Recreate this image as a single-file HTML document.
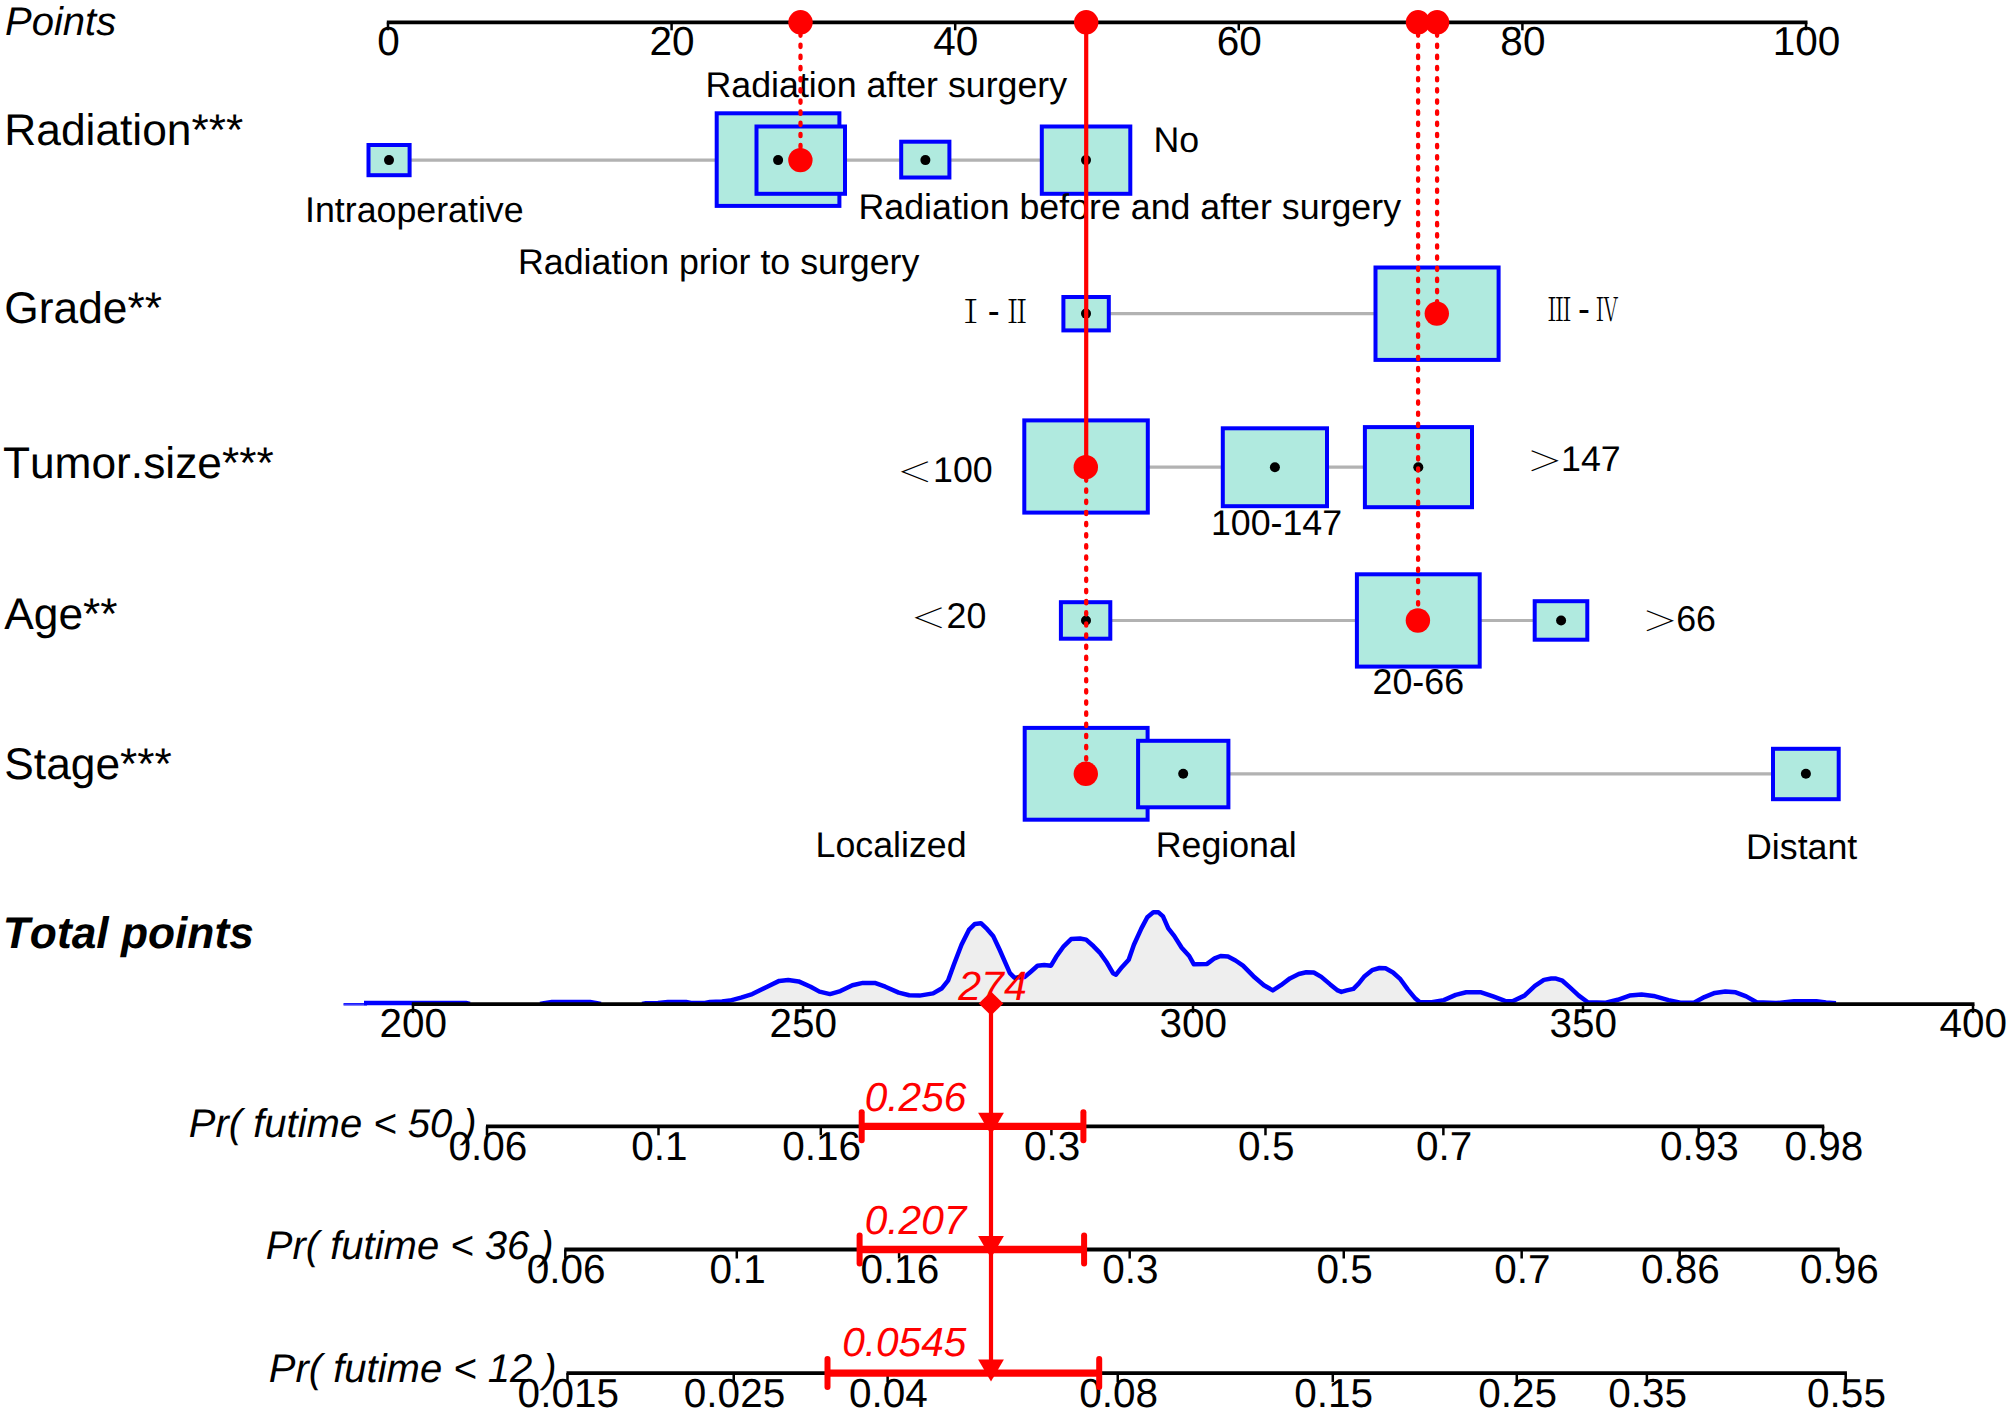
<!DOCTYPE html>
<html><head><meta charset="utf-8"><title>Nomogram</title>
<style>html,body{margin:0;padding:0;background:#fff}body{width:2008px;height:1414px;overflow:hidden}</style>
</head><body>
<svg width="2008" height="1414" viewBox="0 0 2008 1414" style="display:block;font-family:'Liberation Sans', sans-serif;font-kerning:none;text-rendering:geometricPrecision">
<rect width="2008" height="1414" fill="#fff"/>
<line x1="386.8" y1="22.3" x2="1807.5" y2="22.3" stroke="#000" stroke-width="3.8" />
<line x1="388.0" y1="22.3" x2="388.0" y2="30.3" stroke="#000" stroke-width="2.5" />
<text x="388.5" y="55" text-anchor="middle" fill="#000" style="font-size:40.5px;" >0</text>
<line x1="671.6" y1="22.3" x2="671.6" y2="30.3" stroke="#000" stroke-width="2.5" />
<text x="672.1" y="55" text-anchor="middle" fill="#000" style="font-size:40.5px;" >20</text>
<line x1="955.2" y1="22.3" x2="955.2" y2="30.3" stroke="#000" stroke-width="2.5" />
<text x="955.7" y="55" text-anchor="middle" fill="#000" style="font-size:40.5px;" >40</text>
<line x1="1238.8" y1="22.3" x2="1238.8" y2="30.3" stroke="#000" stroke-width="2.5" />
<text x="1239.3" y="55" text-anchor="middle" fill="#000" style="font-size:40.5px;" >60</text>
<line x1="1522.4" y1="22.3" x2="1522.4" y2="30.3" stroke="#000" stroke-width="2.5" />
<text x="1522.9" y="55" text-anchor="middle" fill="#000" style="font-size:40.5px;" >80</text>
<line x1="1806.0" y1="22.3" x2="1806.0" y2="30.3" stroke="#000" stroke-width="2.5" />
<text x="1806.5" y="55" text-anchor="middle" fill="#000" style="font-size:40.5px;" >100</text>
<text x="5" y="35" text-anchor="start" fill="#000" style="font-size:40px;font-style:italic;" >Points</text>
<text x="4.3" y="144.5" text-anchor="start" fill="#000" style="font-size:44.3px;" >Radiation***</text>
<text x="4.3" y="322.8" text-anchor="start" fill="#000" style="font-size:44.3px;" >Grade**</text>
<text x="2.9" y="478.2" text-anchor="start" fill="#000" style="font-size:44.3px;" >Tumor.size***</text>
<text x="4.3" y="629.3" text-anchor="start" fill="#000" style="font-size:44.3px;" >Age**</text>
<text x="4.3" y="779.3" text-anchor="start" fill="#000" style="font-size:44.3px;" >Stage***</text>
<line x1="389" y1="160.1" x2="1086" y2="160.1" stroke="#b2b2b2" stroke-width="3.2" />
<rect x="716.70" y="113.30" width="122.70" height="92.60" fill="#b0eadf" stroke="#0000ff" stroke-width="4.0"/>
<rect x="368.50" y="145.00" width="41.10" height="30.20" fill="#b0eadf" stroke="#0000ff" stroke-width="4.0"/>
<rect x="756.50" y="126.50" width="88.50" height="67.30" fill="#b0eadf" stroke="#0000ff" stroke-width="4.0"/>
<rect x="901.20" y="141.70" width="48.20" height="35.80" fill="#b0eadf" stroke="#0000ff" stroke-width="4.0"/>
<rect x="1041.80" y="126.50" width="88.50" height="67.30" fill="#b0eadf" stroke="#0000ff" stroke-width="4.0"/>
<line x1="1086" y1="313.6" x2="1437" y2="313.6" stroke="#b2b2b2" stroke-width="3.2" />
<rect x="1063.40" y="297.00" width="45.40" height="33.40" fill="#b0eadf" stroke="#0000ff" stroke-width="4.0"/>
<rect x="1375.50" y="267.50" width="123.10" height="92.40" fill="#b0eadf" stroke="#0000ff" stroke-width="4.0"/>
<line x1="1086" y1="467.2" x2="1418" y2="467.2" stroke="#b2b2b2" stroke-width="3.2" />
<rect x="1024.30" y="420.40" width="123.50" height="92.20" fill="#b0eadf" stroke="#0000ff" stroke-width="4.0"/>
<rect x="1222.80" y="428.30" width="104.20" height="77.90" fill="#b0eadf" stroke="#0000ff" stroke-width="4.0"/>
<rect x="1364.90" y="427.10" width="107.10" height="80.10" fill="#b0eadf" stroke="#0000ff" stroke-width="4.0"/>
<line x1="1086" y1="620.5" x2="1561" y2="620.5" stroke="#b2b2b2" stroke-width="3.2" />
<rect x="1060.90" y="602.20" width="49.40" height="36.50" fill="#b0eadf" stroke="#0000ff" stroke-width="4.0"/>
<rect x="1356.90" y="574.30" width="122.80" height="92.30" fill="#b0eadf" stroke="#0000ff" stroke-width="4.0"/>
<rect x="1534.70" y="601.20" width="52.60" height="38.50" fill="#b0eadf" stroke="#0000ff" stroke-width="4.0"/>
<line x1="1086" y1="773.8" x2="1806" y2="773.8" stroke="#b2b2b2" stroke-width="3.2" />
<rect x="1024.70" y="727.90" width="122.90" height="91.80" fill="#b0eadf" stroke="#0000ff" stroke-width="4.0"/>
<rect x="1138.10" y="740.80" width="90.30" height="66.50" fill="#b0eadf" stroke="#0000ff" stroke-width="4.0"/>
<rect x="1773.00" y="748.80" width="65.70" height="50.40" fill="#b0eadf" stroke="#0000ff" stroke-width="4.0"/>
<circle cx="778.1" cy="160.1" r="5.0" fill="#000"/>
<circle cx="389" cy="160.1" r="5.0" fill="#000"/>
<circle cx="925.4" cy="160.1" r="5.0" fill="#000"/>
<circle cx="1086" cy="160.1" r="5.0" fill="#000"/>
<circle cx="1086" cy="313.6" r="5.0" fill="#000"/>
<circle cx="1274.9" cy="467.2" r="5.0" fill="#000"/>
<circle cx="1418.3" cy="467.2" r="5.0" fill="#000"/>
<circle cx="1086" cy="620.5" r="5.0" fill="#000"/>
<circle cx="1561.1" cy="620.5" r="5.0" fill="#000"/>
<circle cx="1183.2" cy="773.8" r="5.0" fill="#000"/>
<circle cx="1805.9" cy="773.8" r="5.0" fill="#000"/>
<text x="305" y="221.7" text-anchor="start" fill="#000" style="font-size:35.75px;" >Intraoperative</text>
<text x="705.5" y="97" text-anchor="start" fill="#000" style="font-size:35.75px;" >Radiation after surgery</text>
<text x="518" y="274" text-anchor="start" fill="#000" style="font-size:35.75px;" >Radiation prior to surgery</text>
<text x="858.5" y="218.6" text-anchor="start" fill="#000" style="font-size:35.75px;" >Radiation before and after surgery</text>
<text x="1153.5" y="151.6" text-anchor="start" fill="#000" style="font-size:35.75px;" >No</text>
<text transform="translate(970.8,323.2) scale(1,1)" x="0" y="0" text-anchor="middle" style="font-size:32px;font-weight:300;font-family:'Liberation Serif', 'Noto Serif CJK SC', serif;">Ⅰ</text>
<text x="993.6" y="323.2" text-anchor="middle" fill="#000" style="font-size:35.75px;" >-</text>
<text transform="translate(1017.2,323.2) scale(0.88,1)" x="0" y="0" text-anchor="middle" style="font-size:32px;font-weight:300;font-family:'Liberation Serif', 'Noto Serif CJK SC', serif;">Ⅱ</text>
<text transform="translate(1559.5,321.4) scale(0.76,1)" x="0" y="0" text-anchor="middle" style="font-size:32px;font-weight:300;font-family:'Liberation Serif', 'Noto Serif CJK SC', serif;">Ⅲ</text>
<text x="1584" y="321.4" text-anchor="middle" fill="#000" style="font-size:35.75px;" >-</text>
<text transform="translate(1607.2,321.4) scale(0.7,1)" x="0" y="0" text-anchor="middle" style="font-size:32px;font-weight:300;font-family:'Liberation Serif', 'Noto Serif CJK SC', serif;">Ⅳ</text>
<text transform="translate(914.6,482.4) scale(1,0.77)" x="0" y="0" text-anchor="middle" style="font-size:36px;font-weight:300;font-family:'Liberation Serif', 'Noto Serif CJK SC', serif;">＜</text>
<text x="933" y="482.4" text-anchor="start" fill="#000" style="font-size:35.75px;" >100</text>
<text transform="translate(1545,471) scale(1,0.77)" x="0" y="0" text-anchor="middle" style="font-size:36px;font-weight:300;font-family:'Liberation Serif', 'Noto Serif CJK SC', serif;">＞</text>
<text x="1561" y="471" text-anchor="start" fill="#000" style="font-size:35.75px;" >147</text>
<text x="1276.5" y="534.7" text-anchor="middle" fill="#000" style="font-size:35.75px;" >100-147</text>
<text transform="translate(928.3,628.1) scale(1,0.77)" x="0" y="0" text-anchor="middle" style="font-size:36px;font-weight:300;font-family:'Liberation Serif', 'Noto Serif CJK SC', serif;">＜</text>
<text x="946.6" y="628.1" text-anchor="start" fill="#000" style="font-size:35.75px;" >20</text>
<text transform="translate(1660.3,630.9) scale(1,0.77)" x="0" y="0" text-anchor="middle" style="font-size:36px;font-weight:300;font-family:'Liberation Serif', 'Noto Serif CJK SC', serif;">＞</text>
<text x="1676.2" y="630.9" text-anchor="start" fill="#000" style="font-size:35.75px;" >66</text>
<text x="1418.3" y="694.1" text-anchor="middle" fill="#000" style="font-size:35.75px;" >20-66</text>
<text x="815.5" y="856.7" text-anchor="start" fill="#000" style="font-size:35.75px;" >Localized</text>
<text x="1155.7" y="856.7" text-anchor="start" fill="#000" style="font-size:35.75px;" >Regional</text>
<text x="1746" y="858.9" text-anchor="start" fill="#000" style="font-size:35.75px;" >Distant</text>
<line x1="800.5" y1="22.3" x2="800.5" y2="160.1" stroke="#ff0000" stroke-width="4.3" stroke-dasharray="2.4 8.75" stroke-linecap="round"/>
<line x1="1086.2" y1="22.3" x2="1086.2" y2="467.2" stroke="#ff0000" stroke-width="4.2" />
<line x1="1086.2" y1="467.2" x2="1086.2" y2="773.8" stroke="#ff0000" stroke-width="4.3" stroke-dasharray="2.4 8.75" stroke-linecap="round"/>
<line x1="1418.1" y1="22.3" x2="1418.1" y2="620.5" stroke="#ff0000" stroke-width="4.3" stroke-dasharray="2.4 8.75" stroke-linecap="round"/>
<line x1="1437.1" y1="22.3" x2="1437.1" y2="313.6" stroke="#ff0000" stroke-width="4.3" stroke-dasharray="2.4 8.75" stroke-linecap="round"/>
<circle cx="800.5" cy="22.3" r="12.2" fill="#ff0000"/>
<circle cx="1086.2" cy="22.3" r="12.2" fill="#ff0000"/>
<circle cx="1418" cy="22.3" r="12.2" fill="#ff0000"/>
<circle cx="1437.1" cy="22.3" r="12.2" fill="#ff0000"/>
<circle cx="800.4" cy="160.1" r="12.2" fill="#ff0000"/>
<circle cx="1436.8" cy="313.6" r="12.2" fill="#ff0000"/>
<circle cx="1085.8" cy="467.2" r="12.2" fill="#ff0000"/>
<circle cx="1417.9" cy="620.5" r="12.2" fill="#ff0000"/>
<circle cx="1085.8" cy="773.8" r="12.2" fill="#ff0000"/>
<line x1="343.5" y1="1004.3" x2="367" y2="1004.3" stroke="#0000ff" stroke-width="2.4"/><path d="M344.0,1004.3 L364.0,1004.3 L364.0,1003.0 L466.0,1003.0 L470.0,1003.9 L540.0,1003.9 L544.0,1003.2 L552.0,1001.9 L590.0,1001.9 L597.0,1003.2 L601.0,1003.9 L642.0,1003.9 L646.0,1003.2 L658.0,1003.0 L668.0,1001.9 L686.0,1001.9 L691.0,1003.0 L705.0,1003.0 L710.0,1001.9 L722.0,1001.6 L729.9,1000.6 L741.0,997.6 L752.3,994.1 L767.2,986.7 L779.2,980.9 L788.2,979.9 L798.6,981.4 L810.6,986.7 L819.5,991.6 L830.0,994.1 L840.4,991.1 L852.4,985.2 L862.9,982.9 L874.8,982.9 L885.3,986.7 L898.7,992.6 L909.2,995.2 L919.6,995.6 L933.1,993.4 L942.0,988.2 L948.0,980.7 L954.0,964.2 L961.5,944.8 L968.9,929.9 L974.9,923.9 L980.9,923.2 L987.2,929.2 L993.1,935.9 L999.4,949.3 L1005.4,962.8 L1009.9,973.2 L1014.4,977.7 L1024.8,976.9 L1030.8,971.7 L1037.5,965.7 L1044.2,965.0 L1051.0,965.7 L1056.2,956.8 L1063.7,946.3 L1071.1,939.1 L1080.1,938.5 L1086.1,939.6 L1093.6,946.3 L1099.5,952.3 L1107.0,962.8 L1113.0,973.2 L1116.0,974.7 L1121.9,967.2 L1128.7,959.8 L1133.9,944.8 L1141.4,928.4 L1147.3,917.2 L1153.3,912.3 L1158.5,912.3 L1163.0,916.4 L1168.3,928.4 L1174.2,935.9 L1181.7,947.8 L1189.2,956.0 L1193.7,964.2 L1207.1,963.9 L1214.6,958.3 L1220.6,956.0 L1228.0,956.5 L1235.5,960.5 L1243.0,965.7 L1253.4,976.2 L1263.9,985.2 L1272.8,990.4 L1280.9,985.2 L1289.9,978.4 L1298.8,974.0 L1306.3,972.2 L1313.8,972.5 L1321.3,976.9 L1330.2,984.4 L1337.7,990.4 L1341.4,991.9 L1346.7,990.4 L1353.4,988.9 L1358.6,983.7 L1364.6,976.2 L1372.1,970.2 L1379.5,968.0 L1385.5,968.3 L1393.0,972.5 L1400.4,979.2 L1407.9,989.6 L1415.4,998.6 L1419.9,1002.3 L1431.8,1002.3 L1443.8,1000.1 L1455.7,994.9 L1466.2,992.3 L1481.1,992.3 L1493.1,996.4 L1505.0,1000.9 L1512.5,1001.3 L1524.5,995.6 L1534.9,985.9 L1543.9,979.9 L1551.3,978.5 L1556.0,978.6 L1562.4,980.7 L1569.9,987.4 L1578.8,995.6 L1587.8,1002.3 L1605.7,1002.8 L1617.7,999.8 L1629.6,995.6 L1641.6,994.4 L1653.6,995.9 L1668.5,1000.1 L1680.4,1002.8 L1693.9,1002.8 L1704.4,997.1 L1714.8,992.9 L1725.3,991.4 L1735.7,992.3 L1746.2,996.4 L1756.6,1002.3 L1776.1,1003.1 L1794.0,1001.3 L1816.4,1001.3 L1826.0,1002.6 L1836.0,1003.2 L1836,1004.1 L344,1004.1 Z" fill="#eeeeee" stroke="none"/><path d="M364.0,1003.0 L466.0,1003.0 L470.0,1003.9 M540.0,1003.9 L544.0,1003.2 L552.0,1001.9 L590.0,1001.9 L597.0,1003.2 L601.0,1003.9 M642.0,1003.9 L646.0,1003.2 L658.0,1003.0 L668.0,1001.9 L686.0,1001.9 L691.0,1003.0 L705.0,1003.0 L710.0,1001.9 L722.0,1001.6 L729.9,1000.6 L741.0,997.6 L752.3,994.1 L767.2,986.7 L779.2,980.9 L788.2,979.9 L798.6,981.4 L810.6,986.7 L819.5,991.6 L830.0,994.1 L840.4,991.1 L852.4,985.2 L862.9,982.9 L874.8,982.9 L885.3,986.7 L898.7,992.6 L909.2,995.2 L919.6,995.6 L933.1,993.4 L942.0,988.2 L948.0,980.7 L954.0,964.2 L961.5,944.8 L968.9,929.9 L974.9,923.9 L980.9,923.2 L987.2,929.2 L993.1,935.9 L999.4,949.3 L1005.4,962.8 L1009.9,973.2 L1014.4,977.7 L1024.8,976.9 L1030.8,971.7 L1037.5,965.7 L1044.2,965.0 L1051.0,965.7 L1056.2,956.8 L1063.7,946.3 L1071.1,939.1 L1080.1,938.5 L1086.1,939.6 L1093.6,946.3 L1099.5,952.3 L1107.0,962.8 L1113.0,973.2 L1116.0,974.7 L1121.9,967.2 L1128.7,959.8 L1133.9,944.8 L1141.4,928.4 L1147.3,917.2 L1153.3,912.3 L1158.5,912.3 L1163.0,916.4 L1168.3,928.4 L1174.2,935.9 L1181.7,947.8 L1189.2,956.0 L1193.7,964.2 L1207.1,963.9 L1214.6,958.3 L1220.6,956.0 L1228.0,956.5 L1235.5,960.5 L1243.0,965.7 L1253.4,976.2 L1263.9,985.2 L1272.8,990.4 L1280.9,985.2 L1289.9,978.4 L1298.8,974.0 L1306.3,972.2 L1313.8,972.5 L1321.3,976.9 L1330.2,984.4 L1337.7,990.4 L1341.4,991.9 L1346.7,990.4 L1353.4,988.9 L1358.6,983.7 L1364.6,976.2 L1372.1,970.2 L1379.5,968.0 L1385.5,968.3 L1393.0,972.5 L1400.4,979.2 L1407.9,989.6 L1415.4,998.6 L1419.9,1002.3 L1431.8,1002.3 L1443.8,1000.1 L1455.7,994.9 L1466.2,992.3 L1481.1,992.3 L1493.1,996.4 L1505.0,1000.9 L1512.5,1001.3 L1524.5,995.6 L1534.9,985.9 L1543.9,979.9 L1551.3,978.5 L1556.0,978.6 L1562.4,980.7 L1569.9,987.4 L1578.8,995.6 L1587.8,1002.3 L1605.7,1002.8 L1617.7,999.8 L1629.6,995.6 L1641.6,994.4 L1653.6,995.9 L1668.5,1000.1 L1680.4,1002.8 L1693.9,1002.8 L1704.4,997.1 L1714.8,992.9 L1725.3,991.4 L1735.7,992.3 L1746.2,996.4 L1756.6,1002.3 L1776.1,1003.1 L1794.0,1001.3 L1816.4,1001.3 L1826.0,1002.6 L1836.0,1003.2" fill="none" stroke="#0000ff" stroke-width="4.5" stroke-linejoin="round" stroke-linecap="butt"/>
<line x1="411.8" y1="1004.1" x2="1974.5" y2="1004.1" stroke="#000" stroke-width="3.8" />
<line x1="413.0" y1="1004.1" x2="413.0" y2="1013.1" stroke="#000" stroke-width="2.5" />
<text x="413.3" y="1037.2" text-anchor="middle" fill="#000" style="font-size:40.5px;" >200</text>
<line x1="803.0" y1="1004.1" x2="803.0" y2="1013.1" stroke="#000" stroke-width="2.5" />
<text x="803.3" y="1037.2" text-anchor="middle" fill="#000" style="font-size:40.5px;" >250</text>
<line x1="1193.0" y1="1004.1" x2="1193.0" y2="1013.1" stroke="#000" stroke-width="2.5" />
<text x="1193.3" y="1037.2" text-anchor="middle" fill="#000" style="font-size:40.5px;" >300</text>
<line x1="1583.0" y1="1004.1" x2="1583.0" y2="1013.1" stroke="#000" stroke-width="2.5" />
<text x="1583.3" y="1037.2" text-anchor="middle" fill="#000" style="font-size:40.5px;" >350</text>
<line x1="1973.0" y1="1004.1" x2="1973.0" y2="1013.1" stroke="#000" stroke-width="2.5" />
<text x="1973.3" y="1037.2" text-anchor="middle" fill="#000" style="font-size:40.5px;" >400</text>
<text x="2.8" y="948" text-anchor="start" fill="#000" style="font-size:44.3px;font-style:italic;font-weight:bold;" >Total points</text>
<line x1="486.0" y1="1126.3" x2="1824.2626049709845" y2="1126.3" stroke="#000" stroke-width="3.8" />
<line x1="487.0" y1="1126.3" x2="487.0" y2="1135.3" stroke="#000" stroke-width="2.5" />
<text x="487.8" y="1159.8999999999999" text-anchor="middle" fill="#000" style="font-size:40.5px;" >0.06</text>
<line x1="658.4958493942574" y1="1126.3" x2="658.4958493942574" y2="1135.3" stroke="#000" stroke-width="2.5" />
<text x="659.2958493942574" y="1159.8999999999999" text-anchor="middle" fill="#000" style="font-size:40.5px;" >0.1</text>
<line x1="820.7867806721424" y1="1126.3" x2="820.7867806721424" y2="1135.3" stroke="#000" stroke-width="2.5" />
<text x="821.5867806721424" y="1159.8999999999999" text-anchor="middle" fill="#000" style="font-size:40.5px;" >0.16</text>
<line x1="1051.3984166905868" y1="1126.3" x2="1051.3984166905868" y2="1135.3" stroke="#000" stroke-width="2.5" />
<text x="1052.1984166905868" y="1159.8999999999999" text-anchor="middle" fill="#000" style="font-size:40.5px;" >0.3</text>
<line x1="1265.4737392429151" y1="1126.3" x2="1265.4737392429151" y2="1135.3" stroke="#000" stroke-width="2.5" />
<text x="1266.273739242915" y="1159.8999999999999" text-anchor="middle" fill="#000" style="font-size:40.5px;" >0.5</text>
<line x1="1443.3731439597814" y1="1126.3" x2="1443.3731439597814" y2="1135.3" stroke="#000" stroke-width="2.5" />
<text x="1444.1731439597813" y="1159.8999999999999" text-anchor="middle" fill="#000" style="font-size:40.5px;" >0.7</text>
<line x1="1698.6912364365116" y1="1126.3" x2="1698.6912364365116" y2="1135.3" stroke="#000" stroke-width="2.5" />
<text x="1699.4912364365116" y="1159.8999999999999" text-anchor="middle" fill="#000" style="font-size:40.5px;" >0.93</text>
<line x1="1823.0626049709845" y1="1126.3" x2="1823.0626049709845" y2="1135.3" stroke="#000" stroke-width="2.5" />
<text x="1823.8626049709844" y="1159.8999999999999" text-anchor="middle" fill="#000" style="font-size:40.5px;" >0.98</text>
<text x="188.8" y="1136.7" text-anchor="start" fill="#000" style="font-size:40px;font-style:italic;" >Pr( futime &lt; 50 )</text>
<line x1="861.7" y1="1126.3" x2="1083.4" y2="1126.3" stroke="#ff0000" stroke-width="7.3" />
<line x1="861.7" y1="1112.3" x2="861.7" y2="1140.3" stroke="#ff0000" stroke-width="6" stroke-linecap="round"/>
<line x1="1083.4" y1="1112.3" x2="1083.4" y2="1140.3" stroke="#ff0000" stroke-width="6" stroke-linecap="round"/>
<text x="966.3" y="1111.1" text-anchor="end" fill="#ff0000" style="font-size:40.6px;font-style:italic;" >0.256</text>
<polygon points="978.1,1112.8 1003.9,1112.8 991,1134.8" fill="#ff0000"/>
<line x1="564.3" y1="1249.5" x2="1839.7263693251366" y2="1249.5" stroke="#000" stroke-width="3.8" />
<line x1="565.3" y1="1249.5" x2="565.3" y2="1258.5" stroke="#000" stroke-width="2.5" />
<text x="566.0999999999999" y="1283.1" text-anchor="middle" fill="#000" style="font-size:40.5px;" >0.06</text>
<line x1="736.7958493942574" y1="1249.5" x2="736.7958493942574" y2="1258.5" stroke="#000" stroke-width="2.5" />
<text x="737.5958493942574" y="1283.1" text-anchor="middle" fill="#000" style="font-size:40.5px;" >0.1</text>
<line x1="899.0867806721424" y1="1249.5" x2="899.0867806721424" y2="1258.5" stroke="#000" stroke-width="2.5" />
<text x="899.8867806721423" y="1283.1" text-anchor="middle" fill="#000" style="font-size:40.5px;" >0.16</text>
<line x1="1129.6984166905868" y1="1249.5" x2="1129.6984166905868" y2="1258.5" stroke="#000" stroke-width="2.5" />
<text x="1130.4984166905867" y="1283.1" text-anchor="middle" fill="#000" style="font-size:40.5px;" >0.3</text>
<line x1="1343.7737392429149" y1="1249.5" x2="1343.7737392429149" y2="1258.5" stroke="#000" stroke-width="2.5" />
<text x="1344.5737392429148" y="1283.1" text-anchor="middle" fill="#000" style="font-size:40.5px;" >0.5</text>
<line x1="1521.6731439597816" y1="1249.5" x2="1521.6731439597816" y2="1258.5" stroke="#000" stroke-width="2.5" />
<text x="1522.4731439597815" y="1283.1" text-anchor="middle" fill="#000" style="font-size:40.5px;" >0.7</text>
<line x1="1679.6902265099097" y1="1249.5" x2="1679.6902265099097" y2="1258.5" stroke="#000" stroke-width="2.5" />
<text x="1680.4902265099097" y="1283.1" text-anchor="middle" fill="#000" style="font-size:40.5px;" >0.86</text>
<line x1="1838.5263693251366" y1="1249.5" x2="1838.5263693251366" y2="1258.5" stroke="#000" stroke-width="2.5" />
<text x="1839.3263693251365" y="1283.1" text-anchor="middle" fill="#000" style="font-size:40.5px;" >0.96</text>
<text x="265.8" y="1258.7" text-anchor="start" fill="#000" style="font-size:40px;font-style:italic;" >Pr( futime &lt; 36 )</text>
<line x1="859.6" y1="1249.5" x2="1084.1" y2="1249.5" stroke="#ff0000" stroke-width="7.3" />
<line x1="859.6" y1="1235.5" x2="859.6" y2="1263.5" stroke="#ff0000" stroke-width="6" stroke-linecap="round"/>
<line x1="1084.1" y1="1235.5" x2="1084.1" y2="1263.5" stroke="#ff0000" stroke-width="6" stroke-linecap="round"/>
<text x="966.3" y="1233.8" text-anchor="end" fill="#ff0000" style="font-size:40.6px;font-style:italic;" >0.207</text>
<polygon points="978.1,1236.0 1003.9,1236.0 991,1258.0" fill="#ff0000"/>
<line x1="566.5" y1="1373.1" x2="1846.9147967517931" y2="1373.1" stroke="#000" stroke-width="3.8" />
<line x1="567.5" y1="1373.1" x2="567.5" y2="1382.1" stroke="#000" stroke-width="2.5" />
<text x="568.3" y="1406.6999999999998" text-anchor="middle" fill="#000" style="font-size:40.5px;" >0.015</text>
<line x1="733.7263690890331" y1="1373.1" x2="733.7263690890331" y2="1382.1" stroke="#000" stroke-width="2.5" />
<text x="734.5263690890331" y="1406.6999999999998" text-anchor="middle" fill="#000" style="font-size:40.5px;" >0.025</text>
<line x1="887.6454965641656" y1="1373.1" x2="887.6454965641656" y2="1382.1" stroke="#000" stroke-width="2.5" />
<text x="888.4454965641655" y="1406.6999999999998" text-anchor="middle" fill="#000" style="font-size:40.5px;" >0.04</text>
<line x1="1117.7629117983302" y1="1373.1" x2="1117.7629117983302" y2="1382.1" stroke="#000" stroke-width="2.5" />
<text x="1118.56291179833" y="1406.6999999999998" text-anchor="middle" fill="#000" style="font-size:40.5px;" >0.08</text>
<line x1="1332.7884675238784" y1="1373.1" x2="1332.7884675238784" y2="1382.1" stroke="#000" stroke-width="2.5" />
<text x="1333.5884675238783" y="1406.6999999999998" text-anchor="middle" fill="#000" style="font-size:40.5px;" >0.15</text>
<line x1="1516.7844735033964" y1="1373.1" x2="1516.7844735033964" y2="1382.1" stroke="#000" stroke-width="2.5" />
<text x="1517.5844735033963" y="1406.6999999999998" text-anchor="middle" fill="#000" style="font-size:40.5px;" >0.25</text>
<line x1="1646.8721863903597" y1="1373.1" x2="1646.8721863903597" y2="1382.1" stroke="#000" stroke-width="2.5" />
<text x="1647.6721863903597" y="1406.6999999999998" text-anchor="middle" fill="#000" style="font-size:40.5px;" >0.35</text>
<line x1="1845.714796751793" y1="1373.1" x2="1845.714796751793" y2="1382.1" stroke="#000" stroke-width="2.5" />
<text x="1846.514796751793" y="1406.6999999999998" text-anchor="middle" fill="#000" style="font-size:40.5px;" >0.55</text>
<text x="268.8" y="1382.2" text-anchor="start" fill="#000" style="font-size:40px;font-style:italic;" >Pr( futime &lt; 12 )</text>
<line x1="827.5" y1="1373.1" x2="1099.2" y2="1373.1" stroke="#ff0000" stroke-width="7.3" />
<line x1="827.5" y1="1359.1" x2="827.5" y2="1387.1" stroke="#ff0000" stroke-width="6" stroke-linecap="round"/>
<line x1="1099.2" y1="1359.1" x2="1099.2" y2="1387.1" stroke="#ff0000" stroke-width="6" stroke-linecap="round"/>
<text x="966.3" y="1355.7" text-anchor="end" fill="#ff0000" style="font-size:40.6px;font-style:italic;" >0.0545</text>
<polygon points="978.1,1359.6 1003.9,1359.6 991,1381.6" fill="#ff0000"/>
<line x1="991" y1="1004.1" x2="991" y2="1378" stroke="#ff0000" stroke-width="4.2" />
<polygon points="978.7,1003.5 991,991.5 1003.3,1003.5 991,1015.5" fill="#ff0000"/>
<text x="992.5" y="999.5" text-anchor="middle" fill="#ff0000" style="font-size:41px;font-style:italic;" >274</text>
</svg>
</body></html>
